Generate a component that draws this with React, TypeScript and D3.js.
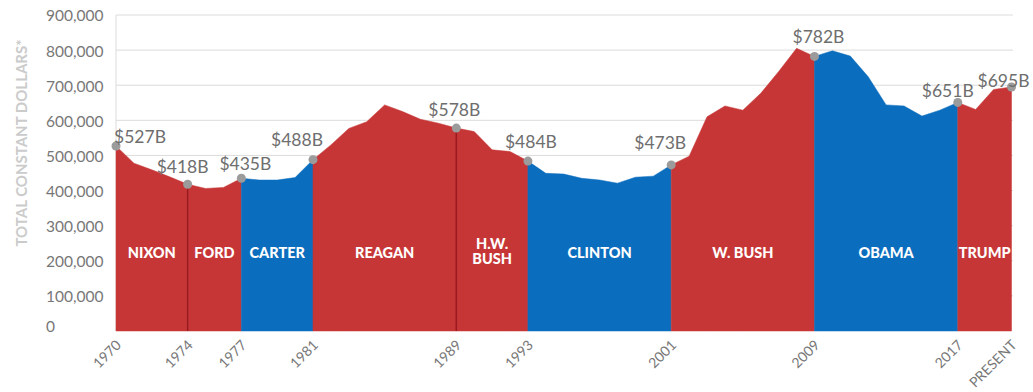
import React from "react";
import * as d3 from "d3";

const years = [1970,1971,1972,1973,1974,1975,1976,1977,1978,1979,1980,1981,1982,1983,1984,1985,1986,1987,1988,1989,1990,1991,1992,1993,1994,1995,1996,1997,1998,1999,2000,2001,2002,2003,2004,2005,2006,2007,2008,2009,2010,2011,2012,2013,2014,2015,2016,2017,2018,2019,2020];
const spending = [527,478,459,439,418,406,409,435,430,430,437,488,530,577,596,644,625,603,592,578,568,516,511,484,449,447,435,430,421,438,441,473,498,610,641,629,677,739,805,782,798,783,724,644,641,612,629,651,631,688,695];

const presidents = ["NIXON","FORD","CARTER","REAGAN","H.W.|BUSH","CLINTON","W. BUSH","OBAMA","TRUMP"];
const termStart = [1970,1974,1977,1981,1989,1993,2001,2009,2017];
const termEnd = [1974,1977,1981,1989,1993,2001,2009,2017,2020];
const party = ["R","R","D","R","R","D","R","D","R"];

const markYears = [1970,1974,1977,1981,1989,1993,2001,2009,2017,2020];
const markLabels = ["$527B","$418B","$435B","$488B","$578B","$484B","$473B","$782B","$651B","$695B"];
const labelDx = [24,-5,4,-16,-2,3,-11,4,-10,-8];
const labelDy = [-9,-17,-14,-20,-18,-19,-22,-20,-12,-6];

const tickYears = [1970,1974,1977,1981,1989,1993,2001,2009,2017,2020];
const tickLabels = ["1970","1974","1977","1981","1989","1993","2001","2009","2017","PRESENT"];
const yTicks = [0,100000,200000,300000,400000,500000,600000,700000,800000,900000];

const RED = "#c73636";
const BLUE = "#0b6dbd";

export default function App() {
  const x = d3.scaleLinear().domain([1970, 2020]).range([116, 1011.5]);
  const y = d3.scaleLinear().domain([0, 900000]).range([331, 15]);
  const data = years.map((yr, i) => ({ yr, v: spending[i] * 1000 }));
  const area = d3.area<{ yr: number; v: number }>()
    .x(d => x(d.yr)).y0(y(0)).y1(d => y(d.v));
  const fmt = d3.format(",");
  const font = "Lato, 'Open Sans', sans-serif";

  return (
    <svg width={1033} height={392} style={{ position: "absolute", left: 0, top: 0, background: "#fff" }}>
      {yTicks.map(t => (
        <g key={t}>
          {t > 0 && <line x1={116} x2={1013} y1={y(t)} y2={y(t)} stroke="#dcdcdc" strokeWidth={1} />}
          <text x={46} y={t === 0 ? y(t) - 4 : y(t) + 1} dy="0.35em" fill="#777" fontFamily={font} fontSize={15.5}>{fmt(t)}</text>
        </g>
      ))}
      <line x1={116} x2={116} y1={15} y2={331} stroke="#dcdcdc" />
      <text transform={`translate(22,143) rotate(-90)`} textAnchor="middle" dy="0.35em"
        fill="#cbcbcb" fontFamily={font} fontWeight={700} fontSize={15}>TOTAL CONSTANT DOLLARS*</text>
      {presidents.map((p, i) => {
        const seg = data.filter(d => d.yr >= termStart[i] && d.yr <= termEnd[i]);
        return <path key={p} d={area(seg) || ""} fill={party[i] === "R" ? RED : BLUE} stroke={party[i] === "R" ? RED : BLUE} strokeWidth={0.5} />;
      })}
      {[1974, 1989].map(yr => {
        const v = spending[years.indexOf(yr)] * 1000;
        return <line key={yr} x1={x(yr)} x2={x(yr)} y1={y(v)} y2={y(0)} stroke="#9a1b1f" strokeWidth={1.5} />;
      })}
      {presidents.map((p, i) => {
        const cx = (x(termStart[i]) + x(termEnd[i])) / 2;
        const lines = p.split("|");
        return (
          <text key={p} x={cx} y={lines.length > 1 ? 244 : 253} textAnchor="middle" fill="#fff"
            fontFamily={font} fontWeight={900} fontSize={14.5}>
            {lines.map((l, j) => (
              <tspan key={j} x={cx} dy={j === 0 ? "0.35em" : "1.05em"}>{l}</tspan>
            ))}
          </text>
        );
      })}
      {markYears.map((yr, i) => {
        const v = spending[years.indexOf(yr)] * 1000;
        return (
          <g key={yr}>
            <circle cx={x(yr)} cy={y(v)} r={4.5} fill="#9b9b9b" />
            <text x={x(yr) + labelDx[i]} y={y(v) + labelDy[i]} dy="0.35em" textAnchor="middle"
              fill="#6e6e6e" fontFamily={font} fontSize={17.5}>{markLabels[i]}</text>
          </g>
        );
      })}
      {tickYears.map((yr, i) => (
        <text key={yr} transform={`translate(${x(yr) + 6},${346}) rotate(-45)`} textAnchor="end"
          fill="#777" fontFamily={font} fontSize={14}>{tickLabels[i]}</text>
      ))}
    </svg>
  );
}
